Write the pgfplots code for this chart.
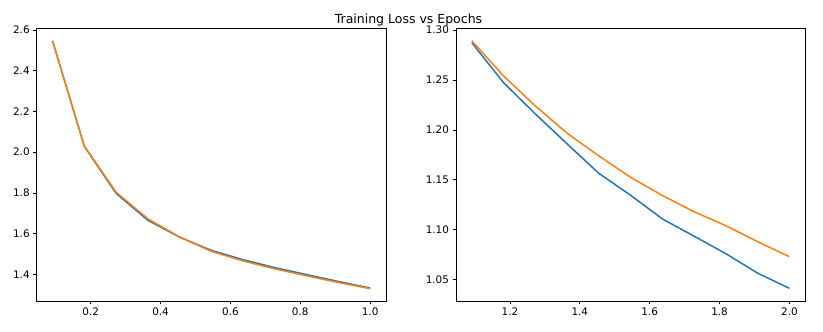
\documentclass[border=0pt]{standalone}
\usepackage{fontspec}
\setmainfont{DejaVu Sans}
\usepackage{pgfplots}
\pgfplotsset{compat=1.18}

\definecolor{mplblue}{HTML}{1F77B4}
\definecolor{mplorange}{HTML}{FF7F0E}

\pgfplotsset{
  lossax/.style={
    anchor=south west,
    scale only axis,
    width=349.3pt, height=272.3pt,
    axis line style={line width=0.8pt},
    tick style={line width=0.8pt, black},
    major tick length=3.5pt,
    tick align=outside,
    xtick pos=bottom, ytick pos=left,
    ticklabel style={font=\fontsize{10.4}{12}\selectfont},
    /pgf/number format/assume math mode=true,
    /pgf/number format/fixed,
    /pgf/number format/fixed zerofill,
    every axis plot/.append style={line width=1.5pt, line join=round},
  },
}

\begin{document}
\begin{tikzpicture}[x=1pt,y=1pt]
\path[use as bounding box] (0,0) rectangle (823,332);

\node[anchor=base, font=\fontsize{12.5}{14}\selectfont] at (408.5,308.7) {Training Loss vs Epochs};

% left panel: first epoch
\begin{axis}[lossax,
  at={(36.7pt,31pt)},
  xmin=0.0455, xmax=1.0455,
  ymin=1.2693, ymax=2.6065,
  xtick={0.2,0.4,0.6,0.8,1.0},
  ytick={1.4,1.6,1.8,2.0,2.2,2.4,2.6},
  xticklabel style={/pgf/number format/precision=1},
  yticklabel style={/pgf/number format/precision=1},
]
\addplot[mplblue] coordinates {
 (0.0909,2.547) (0.1818,2.029) (0.2727,1.798) (0.3636,1.666)
 (0.4545,1.583) (0.5455,1.518) (0.6364,1.472) (0.7273,1.433)
 (0.8182,1.399) (0.9091,1.365) (1.0000,1.333)
};
\addplot[mplorange] coordinates {
 (0.0909,2.545) (0.1818,2.031) (0.2727,1.804) (0.3636,1.673)
 (0.4545,1.584) (0.5455,1.513) (0.6364,1.466) (0.7273,1.427)
 (0.8182,1.393) (0.9091,1.360) (1.0000,1.330)
};
\end{axis}

% right panel: second epoch
\begin{axis}[lossax,
  at={(456pt,31pt)},
  xmin=1.0455, xmax=2.0455,
  ymin=1.0286, ymax=1.3014,
  xtick={1.2,1.4,1.6,1.8,2.0},
  ytick={1.05,1.10,1.15,1.20,1.25,1.30},
  xticklabel style={/pgf/number format/precision=1},
  yticklabel style={/pgf/number format/precision=2},
]
\addplot[mplblue] coordinates {
 (1.0909,1.2873) (1.1818,1.2473) (1.2727,1.2160) (1.3636,1.1860)
 (1.4545,1.1565) (1.5455,1.1345) (1.6364,1.1108) (1.7273,1.0935)
 (1.8182,1.0760) (1.9091,1.0565) (2.0000,1.0413)
};
\addplot[mplorange] coordinates {
 (1.0909,1.2893) (1.1818,1.2540) (1.2727,1.2240) (1.3636,1.1967)
 (1.4545,1.1740) (1.5455,1.1525) (1.6364,1.1343) (1.7273,1.1180)
 (1.8182,1.1040) (1.9091,1.0880) (2.0000,1.0730)
};
\end{axis}
\end{tikzpicture}
\end{document}
